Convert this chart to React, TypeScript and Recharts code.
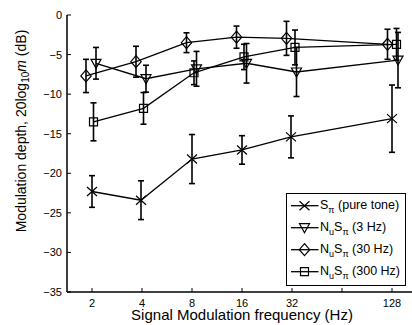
import React from "react";
import { LineChart, Line, XAxis, YAxis, ErrorBar, Legend } from "recharts";

const freqs = [2, 4, 8, 16, 32, 128];
const xTicks = [2, 4, 8, 16, 32, 64, 128];
const xTickLabels = ["2", "4", "8", "16", "32", "", "128"];
const yTicks = [-35, -30, -25, -20, -15, -10, -5, 0];

// S_pi (pure tone)
const pureTone = [-22.3, -23.4, -18.2, -17.05, -15.4, -13.1];
const pureToneErr = [2.0, 2.45, 3.1, 1.8, 2.65, 4.25];
const pureToneJitter = [0, -0.02, 0, 0, -0.02, 0];

// NuSpi (3 Hz)
const nu3 = [-6.1, -8.05, -6.8, -6.1, -7.2, -5.7];
const nu3Err = [2.0, 1.7, 2.2, 2.5, 3.1, 3.5];
const nu3Jitter = [0.08, 0.08, 0.09, 0.09, 0.09, 0.12];

// NuSpi (30 Hz)
const nu30 = [-7.7, -5.9, -3.5, -2.8, -2.95, -3.7];
const nu30Err = [2.1, 1.95, 1.25, 1.4, 2.15, 1.9];
const nu30Jitter = [-0.12, -0.12, -0.11, -0.11, -0.11, -0.09];

// NuSpi (300 Hz)
const nu300 = [-13.5, -11.8, -7.3, -5.3, -4.1, -3.7];
const nu300Err = [2.4, 2.0, 1.5, 1.6, 2.2, 2.0];
const nu300Jitter = [0.03, 0.03, 0.04, 0.04, 0.06, 0.09];

const FONT = "'Liberation Sans', Arial, Helvetica, sans-serif";
const X_DOMAIN = [Math.pow(2, 0.5), Math.pow(2, 7.42)];

function build(vals: number[], errs: number[], jitter: number[]) {
  return freqs.map((f, i) => ({ x: f * Math.pow(2, jitter[i]), y: vals[i], err: errs[i] }));
}

function markerPath(kind: string, cx: number, cy: number) {
  switch (kind) {
    case "x":
      return `M${cx - 5},${cy - 4.5}L${cx + 5},${cy + 4.5}M${cx - 5},${cy + 4.5}L${cx + 5},${cy - 4.5}`;
    case "v":
      return `M${cx - 5},${cy - 4}L${cx + 5},${cy - 4}L${cx},${cy + 5}Z`;
    case "d":
      return `M${cx},${cy - 6}L${cx + 5.2},${cy}L${cx},${cy + 6}L${cx - 5.2},${cy}Z`;
    default:
      return `M${cx - 4},${cy - 4}L${cx + 4},${cy - 4}L${cx + 4},${cy + 4}L${cx - 4},${cy + 4}Z`;
  }
}

const makeDot = (kind: string) => (props: any) => {
  const { cx, cy, index } = props;
  if (cx == null || cy == null) return <g key={`e-${kind}-${index}`} />;
  return (
    <path key={`m-${kind}-${index}`} d={markerPath(kind, cx, cy)} fill="none" stroke="#000" strokeWidth={1.2} />
  );
};

const BottomTick = (props: any) => {
  const { x, y, payload } = props;
  const label = xTickLabels[xTicks.indexOf(payload.value)];
  return (
    <g>
      <line x1={x} x2={x} y1={y - 7} y2={y - 11} stroke="#000" strokeWidth={1} />
      <text x={x} y={y} dy="0.71em" textAnchor="middle" fontSize={11} fontFamily={FONT} fill="#000">
        {label}
      </text>
    </g>
  );
};

const TopTick = (props: any) => {
  const { x, y } = props;
  return <line x1={x} x2={x} y1={y} y2={y + 4} stroke="#000" strokeWidth={1} />;
};

const LeftTick = (props: any) => {
  const { x, y, payload } = props;
  const v = payload.value;
  const label = v < 0 ? `\u2212${Math.abs(v)}` : `${v}`;
  return (
    <g>
      <line x1={x + 5} x2={x + 9} y1={y} y2={y} stroke="#000" strokeWidth={1} />
      <text x={x} y={y} dy="0.36em" textAnchor="end" fontSize={11} fontFamily={FONT} fill="#000">
        {label}
      </text>
    </g>
  );
};

const YTitle = () => (
  <text
    x={25.5}
    y={131}
    transform="rotate(-90 25.5 131)"
    textAnchor="middle"
    fontSize={14}
    fontFamily={FONT}
    fill="#000"
  >
    Modulation depth, 20log
    <tspan fontSize={10} dy={3}>10</tspan>
    <tspan fontStyle="italic" dy={-3}>m</tspan>
    <tspan> (dB)</tspan>
  </text>
);

const XTitle = () => (
  <text x={242} y={319.5} textAnchor="middle" fontSize={15} fontFamily={FONT} fill="#000">
    Signal Modulation frequency (Hz)
  </text>
);

const legendRows = [
  { kind: "x", main: "S", sub: "\u03c0", rest: " (pure tone)", nu: false },
  { kind: "v", main: "S", sub: "\u03c0", rest: " (3 Hz)", nu: true },
  { kind: "d", main: "S", sub: "\u03c0", rest: " (30 Hz)", nu: true },
  { kind: "s", main: "S", sub: "\u03c0", rest: " (300 Hz)", nu: true },
];

const LegendBox = () => (
  <svg width={121} height={94} style={{ display: "block" }}>
    <rect x={0.5} y={0.5} width={119} height={92} fill="#fff" stroke="#000" strokeWidth={1} />
    {legendRows.map((r, i) => {
      const cy = 12.7 + i * 22;
      return (
        <g key={r.rest}>
          <line x1={5} x2={32.5} y1={cy} y2={cy} stroke="#000" strokeWidth={1.3} />
          <path d={markerPath(r.kind, 18.5, cy)} fill="none" stroke="#000" strokeWidth={1.2} />
          <text x={34} y={cy + 3} fontSize={12.5} fontFamily={FONT} fill="#000">
            {r.nu && <tspan>N</tspan>}
            {r.nu && <tspan fontSize={9} dy={4}>u</tspan>}
            <tspan dy={r.nu ? -4 : 0}>{r.main}</tspan>
            <tspan fontSize={9} dy={4}>{r.sub}</tspan>
            <tspan dy={-4}>{r.rest}</tspan>
          </text>
        </g>
      );
    })}
  </svg>
);

const series = [
  { name: "pure", kind: "x", data: build(pureTone, pureToneErr, pureToneJitter) },
  { name: "3hz", kind: "v", data: build(nu3, nu3Err, nu3Jitter) },
  { name: "30hz", kind: "d", data: build(nu30, nu30Err, nu30Jitter) },
  { name: "300hz", kind: "s", data: build(nu300, nu300Err, nu300Jitter) },
];

export default function App() {
  return (
    <div style={{ position: "absolute", left: 0, top: 0, width: 412, height: 325, overflow: "hidden", background: "#fff" }}>
      <LineChart width={420} height={325} margin={{ top: 15, right: 7, bottom: 0, left: 0 }}>
        <XAxis
          xAxisId="b"
          type="number"
          dataKey="x"
          scale="log"
          domain={X_DOMAIN}
          allowDataOverflow
          ticks={xTicks}
          interval={0}
          height={33}
          tickSize={0}
          tickMargin={7}
          tickLine={false}
          axisLine={{ stroke: "#000", strokeWidth: 1.5 }}
          tick={<BottomTick />}
          label={<XTitle />}
        />
        <XAxis
          xAxisId="t"
          orientation="top"
          type="number"
          dataKey="x"
          scale="log"
          domain={X_DOMAIN}
          allowDataOverflow
          ticks={xTicks}
          interval={0}
          height={0}
          tickSize={0}
          tickMargin={0}
          tickLine={false}
          axisLine={{ stroke: "#000", strokeWidth: 1.5 }}
          tick={<TopTick />}
        />
        <YAxis
          type="number"
          domain={[-35, 0]}
          allowDataOverflow
          ticks={yTicks}
          interval={0}
          width={67}
          tickSize={0}
          tickMargin={5}
          tickLine={false}
          axisLine={{ stroke: "#000", strokeWidth: 1.5 }}
          tick={<LeftTick />}
          label={<YTitle />}
        />
        {series.map((s) => (
          <Line
            key={s.name}
            xAxisId="b"
            data={s.data}
            dataKey="y"
            stroke="#000"
            strokeWidth={1.3}
            dot={makeDot(s.kind)}
            activeDot={false}
            isAnimationActive={false}
          >
            <ErrorBar dataKey="err" direction="y" width={3} stroke="#000" strokeWidth={1.6} />
          </Line>
        ))}
        <Legend
          layout="horizontal"
          verticalAlign="middle"
          align="center"
          content={<LegendBox />}
          wrapperStyle={{ left: 286, top: 193, width: 121, height: 94 }}
        />
      </LineChart>
    </div>
  );
}
